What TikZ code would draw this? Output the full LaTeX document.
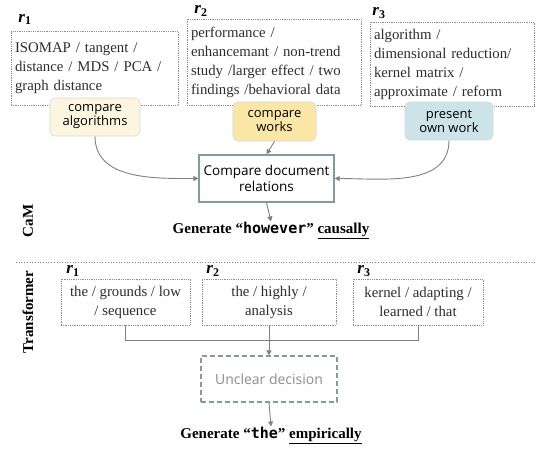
\documentclass[tikz,border=0pt]{standalone}
\usepackage{fontspec}
\setmainfont{Liberation Serif}
\newfontfamily\badgefont{Open Sans}
\newfontfamily\codefont{DejaVu Sans Mono}
\usetikzlibrary{arrows.meta}
\definecolor{txtgray}{RGB}{45,45,45}
\definecolor{linegray}{RGB}{128,128,128}
\definecolor{boxedge}{RGB}{140,140,140}
\definecolor{badgeedge}{RGB}{215,215,215}
\definecolor{creamfill}{RGB}{252,245,224}
\definecolor{yellowfill}{RGB}{250,230,166}
\definecolor{bluefill}{RGB}{204,228,232}
\definecolor{tealedge}{RGB}{130,155,160}
\definecolor{uncleartxt}{RGB}{140,140,140}
\tikzset{
  wordbox/.style={draw=boxedge, densely dotted, line width=0.8pt, text=txtgray,
    font=\fontsize{14.8}{19}\selectfont, inner sep=4pt, align=left},
  lowbox/.style={draw=boxedge, densely dotted, line width=0.8pt, text=txtgray,
    font=\fontsize{14.8}{19}\selectfont, inner sep=2pt, align=center},
  badge/.style={draw=badgeedge, rounded corners=5pt, line width=0.6pt,
    font=\badgefont\fontsize{13}{14}\selectfont, align=center, inner sep=2pt},
  rlabel/.style={font=\fontsize{17}{17}\selectfont, inner sep=0pt},
  conn/.style={draw=linegray, line width=0.9pt},
  arr/.style={conn, -{Triangle[length=5pt,width=5pt]}},
  gentext/.style={font=\bfseries\fontsize{15}{15}\selectfont, inner sep=0pt},
  sidelabel/.style={font=\bfseries\fontsize{15}{15}\selectfont, rotate=90, inner sep=0pt}
}
\newcommand{\rlab}[1]{\textbf{\textit{r}}$_{\mathbf{#1}}$}
\begin{document}
\begin{tikzpicture}[x=1pt,y=-1pt]
\useasboundingbox (0,0) rectangle (537,448);

% top word boxes
\node[wordbox, minimum width=167pt, minimum height=74pt, text width=159pt] (b1) at (94.5,68)
  {ISOMAP / tangent /\\distance / MDS / PCA /\\graph distance};
\node[wordbox, minimum width=174pt, minimum height=86pt, text width=166pt] (b2) at (274,62)
  {performance /\\enhancemant / non-trend\\study /larger effect / two\\findings /behavioral data};
\node[wordbox, minimum width=164pt, minimum height=84pt, text width=156pt] (b3) at (452,64)
  {algorithm /\\dimensional reduction/\\kernel matrix /\\approximate / reform};

\node[rlabel] (r1) at (25,19.5) {\rlab{1}};
\node[rlabel] (r2) at (201,11) {\rlab{2}};
\node[rlabel] (r3) at (379,13) {\rlab{3}};

% badges
\node[badge, fill=creamfill, minimum width=90pt, minimum height=38pt] (g1) at (95,117) {compare\\algorithms};
\node[badge, fill=yellowfill, minimum width=83pt, minimum height=39pt] (g2) at (274.5,121.5) {compare\\works};
\node[badge, fill=bluefill, minimum width=88pt, minimum height=38pt] (g3) at (449,121) {present\\own work};

% compare box
\node[draw=tealedge, line width=1.4pt, minimum width=135pt, minimum height=47pt,
  font=\badgefont\fontsize{13.5}{16}\selectfont, align=center, inner sep=2pt] (cmp) at (266.5,178.5)
  {Compare document\\relations};

\draw[arr] (g1.south) to[out=-90,in=180] (cmp.west);
\draw[arr] (g2.south) -- (cmp.north);
\draw[arr] (g3.south) to[out=-90,in=0] (cmp.east);

\node[gentext] (gen1) at (271,230) {Generate “{\codefont\bfseries however}” \underline{causally}};
\draw[arr] (cmp.south) -- (gen1.north);

\node[sidelabel] (cam) at (28,221) {CaM};
\node[sidelabel] (tr) at (28,312) {Transformer};

\coordinate (dl) at (16,262);
\coordinate (dr) at (537,262);
\draw[linegray, dotted, line width=0.7pt] (dl) -- (dr);

% bottom boxes
\node[lowbox, minimum width=129pt, minimum height=46pt] (c1) at (125.5,302) {the / grounds / low\\/ sequence};
\node[lowbox, minimum width=134pt, minimum height=46pt] (c2) at (269,302) {the / highly /\\analysis};
\node[lowbox, minimum width=130pt, minimum height=46pt] (c3) at (418,302) {kernel / adapting /\\learned / that};

\node[rlabel] (s1) at (73,271) {\rlab{1}};
\node[rlabel] (s2) at (213,271) {\rlab{2}};
\node[rlabel] (s3) at (364,271) {\rlab{3}};

\node[draw=tealedge, dashed, dash pattern=on 5pt off 3pt, line width=1.2pt, minimum width=136pt, minimum height=46pt,
  font=\badgefont\fontsize{14}{16}\selectfont, text=uncleartxt, inner sep=2pt] (ub) at (269,379) {Unclear decision};

\coordinate (j) at (269,340);
\draw[conn] (c1.south) |- (j) -| (c3.south);
\draw[arr] (c2.south) -- (ub.north);

\node[gentext] (gen2) at (271,435) {Generate “{\codefont\bfseries the}” \underline{empirically}};
\draw[arr] (ub.south) -- (gen2.north);
\end{tikzpicture}
\end{document}
